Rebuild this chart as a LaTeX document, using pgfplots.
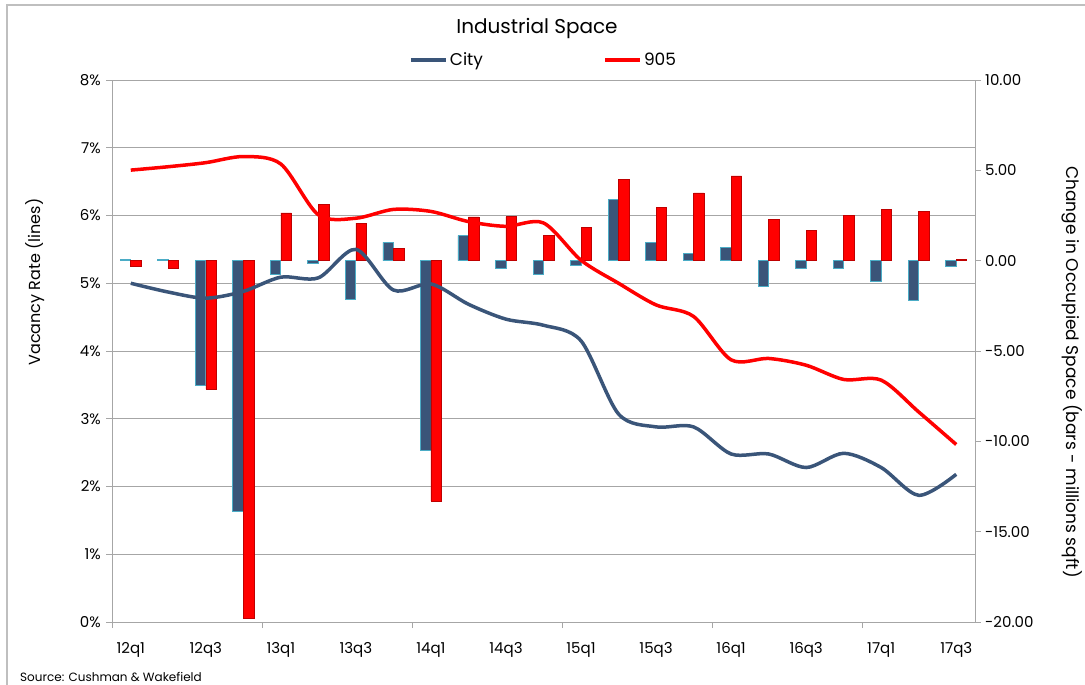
\documentclass[border=0pt]{standalone}
\usepackage{pgfplots}
\pgfplotsset{compat=1.18}
\usepackage{fontspec}
\setmainfont{Poppins}
\definecolor{citycol}{HTML}{3A5579}
\definecolor{cityedge}{HTML}{4BACC6}
\definecolor{redcol}{HTML}{FF0000}
\definecolor{gridgray}{HTML}{A6A6A6}
\definecolor{framegray}{HTML}{BFBFBF}

\pgfplotstableread{
i city red
0 0.05 -0.33
1 0.08 -0.42
2 -6.9 -7.1
3 -13.9 -19.8
4 -0.77 2.64
5 -0.15 3.12
6 -2.12 2.08
7 1.01 0.68
8 -10.5 -13.3
9 1.38 2.42
10 -0.42 2.43
11 -0.77 1.42
12 -0.24 1.86
13 3.41 4.5
14 1.03 2.93
15 0.42 3.75
16 0.72 4.69
17 -1.44 2.29
18 -0.42 1.68
19 -0.42 2.49
20 -1.14 2.84
21 -2.21 2.73
22 -0.3 0.08
}\bars

\pgfplotstableread{
i city red
0 5.00 6.67
1 4.87 6.72
2 4.78 6.78
3 4.88 6.87
4 5.09 6.76
5 5.08 6.01
6 5.50 5.96
7 4.90 6.09
8 4.99 6.06
9 4.69 5.91
10 4.47 5.84
11 4.38 5.89
12 4.15 5.34
13 3.07 5.00
14 2.88 4.68
15 2.88 4.51
16 2.48 3.87
17 2.48 3.89
18 2.28 3.79
19 2.49 3.58
20 2.28 3.57
21 1.87 3.10
22 2.18 2.62
}\lines

\pgfplotsset{base/.style={
  scale only axis, width=863pt, height=542pt,
  at={(112pt,-622pt)}, anchor=south west,
  xmin=-0.5, xmax=22.5,
  /pgf/number format/assume math mode=true,
  tick label style={font=\fontsize{15}{18}\selectfont, text=black},
}}

\begin{document}
\begin{tikzpicture}
\path[use as bounding box] (0pt,0pt) rectangle (1085pt,-685pt);
\draw[framegray, line width=1.5pt] (7pt,-685pt) -- (7pt,-5pt) -- (1085pt,-5pt);

% axis 1: left axis, grid, x labels
\begin{axis}[base,
  ymin=0, ymax=8,
  ytick={0,1,...,8},
  yticklabels={0\%,1\%,2\%,3\%,4\%,5\%,6\%,7\%,8\%},
  ymajorgrids,
  grid style={gridgray, line width=1pt},
  axis line style={gridgray, line width=1pt},
  tick style={gridgray, line width=1pt},
  tick align=outside,
  major tick length=6pt,
  ytick pos=left, xtick pos=bottom,
  yticklabel style={anchor=east, inner sep=0pt, xshift=-5pt},
  xtick={-0.5,3.5,7.5,11.5,15.5,19.5},
  xticklabels={,,,,,},
  extra x ticks={0,2,4,6,8,10,12,14,16,18,20,22},
  extra x tick labels={12q1,12q3,13q1,13q3,14q1,14q3,15q1,15q3,16q1,16q3,17q1,17q3},
  extra x tick style={major tick length=0pt, xticklabel style={anchor=north, inner sep=0pt, yshift=-20pt}},
]
\end{axis}

% axis 2: right axis, bars
\begin{axis}[base,
  ymin=-20, ymax=10,
  axis y line*=right, axis x line=none,
  axis line style={gridgray, line width=1pt},
  tick style={gridgray, line width=1pt},
  tick align=outside,
  major tick length=6pt,
  ytick={-20,-15,...,10},
  yticklabels={-20.00,-15.00,-10.00,-5.00,0.00,5.00,10.00},
  yticklabel style={anchor=west, inner sep=0pt, xshift=4pt},
  ybar=0pt, bar width=10.5pt,
]
\addplot[fill=citycol, draw=cityedge, line width=0.8pt] table[x=i, y=city] {\bars};
\addplot[fill=redcol, draw=red!75!black, line width=0.6pt] table[x=i, y=red] {\bars};
\end{axis}

% axis 3: lines
\begin{axis}[base,
  ymin=0, ymax=8,
  axis lines=none,
  legend style={at={(0.5,1.037)}, anchor=center, draw=none, fill=none,
    font=\fontsize{17}{20}\selectfont, legend columns=2,
    /tikz/every even column/.append style={column sep=118pt},
    inner sep=0pt},
  legend image code/.code={\draw[#1, line width=4pt] (0pt,0pt) -- (35pt,0pt);},
]
\addplot[citycol, line width=3.5pt, smooth, mark=none] table[x=i, y=city] {\lines};
\addlegendentry{City}
\addplot[redcol, line width=3.5pt, smooth, mark=none] table[x=i, y=red] {\lines};
\addlegendentry{905}
\end{axis}

\node at (537pt,-28pt) {\fontsize{20}{24}\selectfont Industrial Space};
\node[rotate=90] at (35pt,-282pt) {\fontsize{16}{19}\selectfont Vacancy Rate (lines)};
\node[rotate=-90] at (1072pt,-372pt) {\fontsize{17}{20}\selectfont Change in Occupied Space (bars - millions sqft)};
\node[anchor=west, inner sep=0pt] at (20pt,-677pt) {\fontsize{12}{14}\selectfont Source: Cushman \& Wakefield};
\end{tikzpicture}
\end{document}
